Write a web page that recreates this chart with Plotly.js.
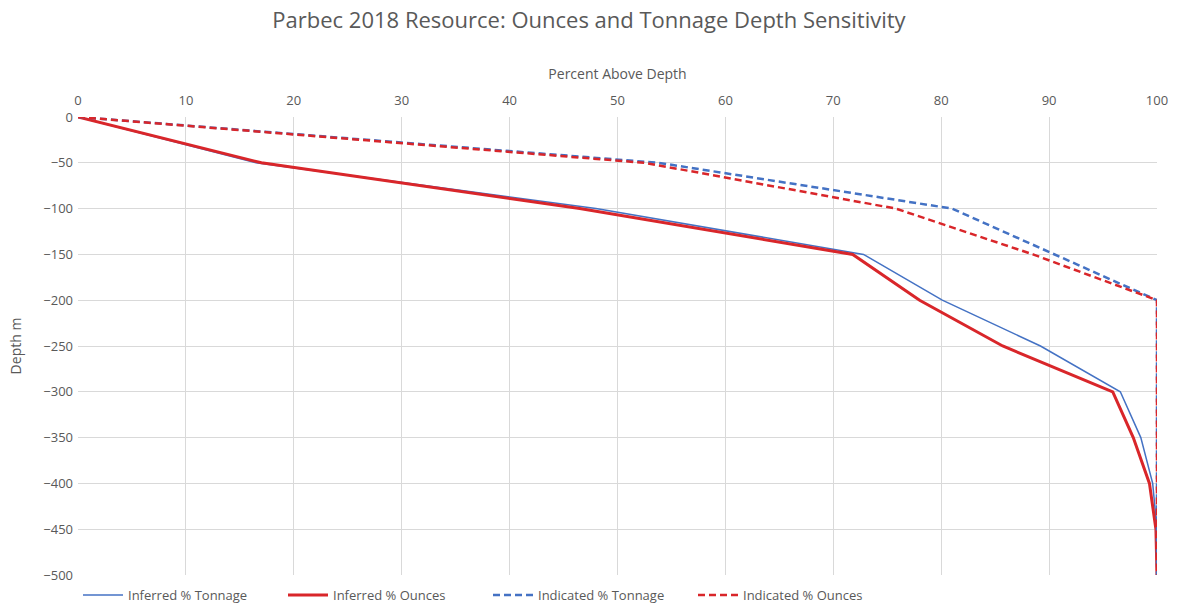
<!DOCTYPE html>
<html>
<head>
<meta charset="utf-8">
<script src="https://cdn.plot.ly/plotly-3.0.1.min.js"></script>
<style>html,body{margin:0;padding:0;background:#fff;}#chart{width:1178px;height:610px;}</style>
</head>
<body>
<div id="chart"></div>
<script>
const depths = [0, -50, -100, -150, -200, -250, -300, -350, -400, -450, -500];
const inferredTonnage = [0, 16.5, 48, 72.8, 80.1, 89.2, 96.6, 98.5, 99.6, 100, 100];
const inferredOunces = [0, 17, 46.5, 71.8, 78, 85.7, 95.9, 97.8, 99.3, 99.9, 100];
const indicatedTonnage = [0, 53.8, 81, 90.5, 100, 100, 100, 100, 100, 100, 100];
const indicatedOunces = [0, 52.5, 75.8, 88.5, 100, 100, 100, 100, 100, 100, 100];
const seriesNames = ["Inferred % Tonnage", "Inferred % Ounces", "Indicated % Tonnage", "Indicated % Ounces"];

const blue = "#4472C4";
const red = "#D9262A";
const txt = "#595959";

const traces = [
  {x: inferredTonnage, y: depths, name: seriesNames[0], mode: "lines", line: {color: blue, width: 1.5}},
  {x: inferredOunces, y: depths, name: seriesNames[1], mode: "lines", line: {color: red, width: 3}},
  {x: indicatedTonnage, y: depths, name: seriesNames[2], mode: "lines", line: {color: blue, width: 2.5, dash: "7px,4px"}},
  {x: indicatedOunces, y: depths, name: seriesNames[3], mode: "lines", line: {color: red, width: 2.5, dash: "7px,4px"}}
];

const layout = {
  width: 1178, height: 610,
  margin: {l: 78, r: 21, t: 117, b: 35},
  paper_bgcolor: "#fff", plot_bgcolor: "#fff",
  font: {family: "Open Sans, sans-serif", color: txt, size: 13},
  title: {text: "Parbec 2018 Resource: Ounces and Tonnage Depth Sensitivity", x: 0.5, xanchor: "center", y: 0.967, yanchor: "middle", font: {size: 22, color: txt}},
  xaxis: {
    side: "top", range: [0, 100], tickmode: "linear", tick0: 0, dtick: 10,
    showgrid: true, gridcolor: "#d9d9d9", gridwidth: 1, zeroline: false, showline: false,
    ticks: "", ticklen: 0, ticklabelstandoff: 8, tickfont: {size: 13, color: txt},
    title: {text: "Percent Above Depth", font: {size: 14, color: txt}, standoff: 8}
  },
  yaxis: {
    range: [-500, 0], tickmode: "linear", tick0: 0, dtick: 50,
    showgrid: true, gridcolor: "#d9d9d9", gridwidth: 1, zeroline: false, showline: false,
    ticks: "", ticklabelstandoff: 4, tickfont: {size: 13, color: txt},
    title: {text: "Depth m", font: {size: 14, color: txt}, standoff: 18}
  },
  showlegend: true,
  legend: {orientation: "h", x: 0.0, xanchor: "left", xref: "paper", yref: "container", y: 0.0, yanchor: "bottom", font: {size: 13, color: txt}, itemwidth: 40, entrywidth: 150, entrywidthmode: "pixels"}
};

Plotly.newPlot("chart", traces, layout, {displayModeBar: false, staticPlot: true});
</script>
</body>
</html>
